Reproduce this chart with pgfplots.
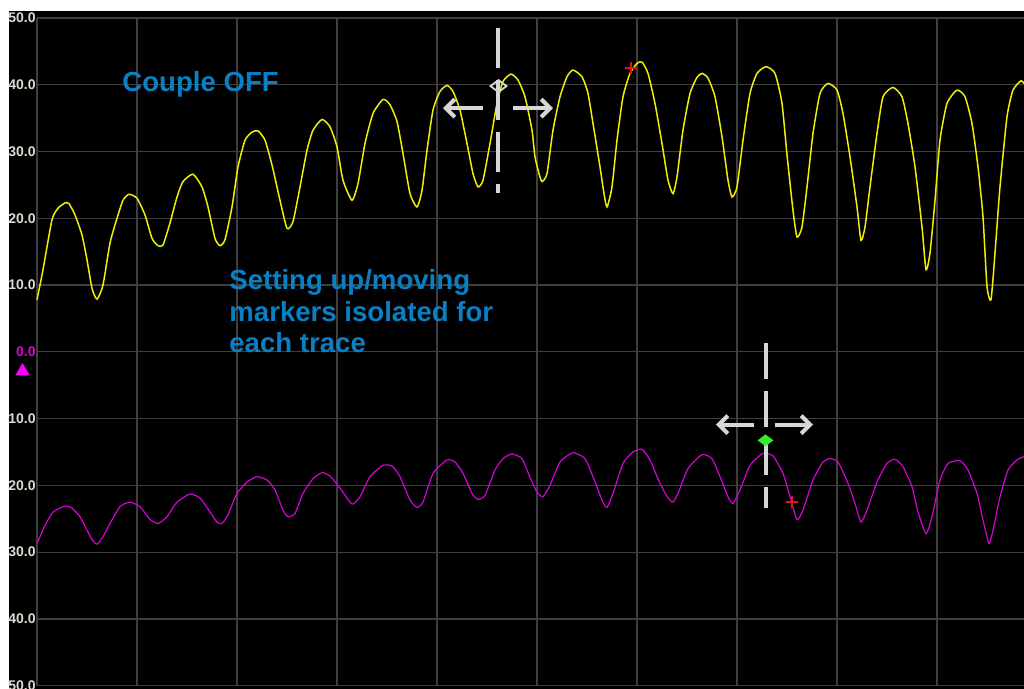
\documentclass[border=0pt]{standalone}
\usepackage{pgfplots}
\pgfplotsset{compat=1.18}
\usepackage{fontspec}
\setmainfont{Liberation Sans}
\usetikzlibrary{arrows.meta}
\definecolor{gridc}{RGB}{62,62,62}
\definecolor{trY}{RGB}{240,240,0}
\definecolor{trM}{RGB}{215,0,215}
\definecolor{tri}{RGB}{255,0,255}
\definecolor{lbl}{RGB}{222,218,208}
\definecolor{ann}{RGB}{10,128,196}
\definecolor{curs}{RGB}{215,215,215}
\definecolor{grn}{RGB}{50,235,50}
\definecolor{rd}{RGB}{230,20,20}
\begin{document}
\begin{tikzpicture}
\useasboundingbox (0,0) rectangle (512pt,344.5pt);
\fill[white] (0,0) rectangle (512pt,344.5pt);
\clip (0,0) rectangle (512pt,344.5pt);
\fill[black] (4.5pt,0) rectangle (512pt,339pt);
\begin{axis}[
  scale only axis, width=493.5pt, height=333.85pt,
  at={(18.5pt,1.65pt)}, anchor=south west,
  xmin=0, xmax=987, ymin=-50, ymax=50,
  xtick={0,100,...,900}, xticklabels={},
  ytick={-50,-40,...,50},
  yticklabels={50.0,40.0,30.0,20.0,10.0,\textcolor{trM}{0.0},10.0,20.0,30.0,40.0,50.0},
  grid=major, major grid style={gridc, line width=0.6pt},
  axis line style={draw=none}, major tick length=0pt,
  yticklabel style={font=\bfseries\fontsize{7}{8}\selectfont, text=lbl, inner sep=0.5pt},
  clip=false,
]
\addplot[trY, line width=0.75pt, mark=none, smooth, tension=0.35] coordinates {
(0,7.8) (6,12.3) (15,19.8) (21,21.5) (28,22.3) (32,22.2) (38,20.5) (45,17.5) (50,13.8) (55,9.5) (60,7.9) (66,10.0) (73,16.3) (80,20.0) (86,22.7) (92,23.6) (100,23.0) (108,20.5) (115,17.0) (121,15.9) (126,16.0) (133,19.3) (140,23.2) (146,25.5) (156,26.6) (165,24.7) (171,21.7) (178,17.0) (183,15.9) (188,16.8) (195,21.7) (201,27.7) (208,31.7) (215,32.9) (221,33.1) (228,31.7) (235,28.0) (243,22.7) (250,18.5) (256,19.5) (263,24.7) (270,30.2) (276,33.2) (285,34.8) (293,33.7) (300,30.7) (306,25.7) (315,22.7) (321,25.2) (328,31.2) (336,35.7) (346,37.8) (353,37.0) (360,34.5) (366,29.7) (373,23.7) (380,21.7) (385,24.2) (390,30.2) (396,36.2) (403,39.0) (410,39.9) (416,39.0) (423,36.2) (430,31.2) (436,26.7) (441,24.7) (446,25.7) (453,31.2) (460,37.2) (466,40.5) (474,41.6) (481,40.7) (488,38.2) (495,33.2) (498,29.2) (502,26.7) (505,25.5) (510,26.7) (516,33.2) (523,38.2) (530,41.2) (536,42.2) (545,41.2) (551,38.7) (556,34.2) (563,27.7) (567,23.7) (570,21.7) (575,24.7) (580,31.7) (586,38.2) (593,41.7) (600,43.2) (605,43.4) (611,41.7) (618,37.2) (625,31.2) (631,25.7) (636,23.7) (640,26.2) (646,33.2) (653,38.7) (660,41.1) (665,41.7) (671,41.0) (678,38.2) (685,32.2) (691,25.7) (695,23.2) (700,24.7) (706,31.7) (713,38.7) (720,41.7) (729,42.7) (738,41.7) (745,37.2) (750,29.5) (756,21.2) (760,17.2) (765,18.7) (770,24.7) (776,32.7) (783,38.7) (791,40.2) (800,39.2) (806,35.7) (813,29.2) (820,21.7) (824,16.7) (828,18.7) (833,24.7) (840,32.7) (846,38.2) (856,39.6) (865,38.2) (871,34.2) (878,27.7) (885,18.7) (889,12.3) (893,14.8) (898,22.7) (903,31.7) (910,37.2) (920,39.2) (928,38.2) (935,34.2) (941,27.7) (946,20.2) (950,9.8) (954,7.8) (958,14.8) (963,24.7) (970,35.2) (976,39.2) (984,40.6) (987,40.2)
};
\addplot[trM, line width=0.6pt, mark=none, smooth, tension=0.35] coordinates {
(0,-28.7) (8,-26.0) (16,-24.0) (28,-23.1) (35,-23.4) (43,-24.7) (50,-26.7) (55,-28.1) (60,-28.8) (66,-27.7) (73,-25.7) (83,-23.2) (93,-22.5) (103,-23.2) (113,-25.1) (121,-25.7) (130,-24.7) (140,-22.5) (153,-21.3) (163,-21.9) (173,-24.0) (180,-25.5) (185,-25.7) (191,-24.4) (200,-21.2) (210,-19.5) (220,-18.7) (230,-19.2) (238,-20.7) (246,-23.7) (251,-24.7) (258,-24.2) (266,-21.2) (276,-19.0) (285,-18.1) (293,-18.6) (303,-20.4) (315,-22.8) (323,-21.7) (333,-18.7) (346,-17.0) (355,-17.1) (363,-18.7) (373,-22.2) (380,-23.3) (386,-22.5) (396,-18.2) (410,-16.2) (418,-16.5) (426,-18.2) (435,-21.2) (441,-22.1) (448,-21.5) (458,-17.7) (466,-16.0) (475,-15.3) (485,-16.0) (493,-18.8) (500,-21.0) (506,-21.7) (513,-20.0) (523,-16.5) (536,-15.1) (548,-16.0) (556,-18.7) (565,-22.2) (570,-23.3) (576,-21.2) (586,-16.7) (596,-15.0) (605,-14.6) (613,-16.2) (623,-19.7) (631,-21.9) (636,-22.5) (641,-21.2) (651,-17.5) (665,-15.4) (675,-16.0) (683,-18.7) (691,-21.7) (696,-22.7) (703,-20.7) (713,-17.0) (726,-15.2) (736,-15.6) (746,-18.2) (753,-21.7) (760,-25.1) (766,-23.7) (776,-19.2) (786,-16.5) (793,-16.0) (801,-16.5) (811,-19.7) (818,-22.7) (824,-25.5) (830,-23.7) (840,-19.5) (850,-16.7) (858,-16.1) (866,-17.2) (875,-20.2) (881,-24.0) (889,-27.2) (895,-24.7) (903,-19.2) (911,-16.7) (923,-16.3) (931,-17.7) (940,-21.2) (946,-25.2) (952,-28.7) (956,-26.7) (963,-21.7) (971,-17.7) (980,-16.2) (987,-15.7)
};
% cursors
\draw[curs, line width=2pt, dash pattern=on 20pt off 6pt] (axis cs:461,48.5) -- (axis cs:461,23.8);
\draw[curs, line width=2pt, -{Straight Barb[length=4.5pt,width=9pt]}] (axis cs:446,36.5) -- (axis cs:406,36.5);
\draw[curs, line width=2pt, -{Straight Barb[length=4.5pt,width=9pt]}] (axis cs:476,36.5) -- (axis cs:516,36.5);
\draw[curs, line width=2pt, dash pattern=on 18pt off 6pt] (axis cs:728.7,1.3) -- (axis cs:728.7,-23.4);
\draw[curs, line width=2pt, -{Straight Barb[length=4.5pt,width=9pt]}] (axis cs:717,-10.9) -- (axis cs:679,-10.9);
\draw[curs, line width=2pt, -{Straight Barb[length=4.5pt,width=9pt]}] (axis cs:738,-10.9) -- (axis cs:776,-10.9);
\addplot[only marks, mark=diamond, mark size=4pt, mark options={rotate=90, draw=curs, line width=0.9pt}] coordinates {(461.5,39.8)};
\addplot[only marks, mark=diamond*, mark size=3.6pt, mark options={rotate=90, draw=grn, fill=grn}] coordinates {(728.5,-13.25)};
\addplot[only marks, mark=+, mark size=3pt, mark options={draw=rd, line width=0.8pt}] coordinates {(594,42.5) (754.7,-22.45)};
\addplot[only marks, mark=triangle*, mark size=3.7pt, mark options={draw=tri, fill=tri}] coordinates {(-14.5,-2.9)};
% annotations
\node[anchor=base west, inner sep=0pt, text=ann, font=\bfseries\fontsize{13.8}{16}\selectfont] at (axis cs:85,38.95) {Couple OFF};
\node[anchor=base west, inner sep=0pt, text=ann, font=\bfseries\fontsize{13.8}{16}\selectfont] at (axis cs:192,9.36) {Setting up/moving};
\node[anchor=base west, inner sep=0pt, text=ann, font=\bfseries\fontsize{13.8}{16}\selectfont] at (axis cs:192,4.51) {markers isolated for};
\node[anchor=base west, inner sep=0pt, text=ann, font=\bfseries\fontsize{13.8}{16}\selectfont] at (axis cs:192,-0.13) {each trace};
\end{axis}
\end{tikzpicture}
\end{document}
